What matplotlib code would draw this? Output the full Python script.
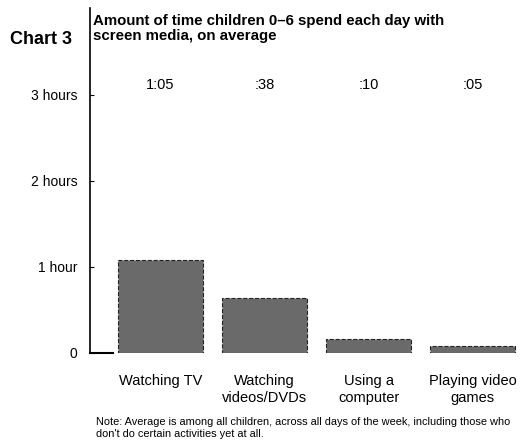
import matplotlib
matplotlib.use('Agg')
import matplotlib.pyplot as plt
import numpy as np

plt.rcParams['font.family'] = ['Liberation Sans', 'DejaVu Sans']

# data (hours per day)
categories = ['Watching TV', 'Watching\nvideos/DVDs', 'Using a\ncomputer', 'Playing video\ngames']
hours = [65 / 60, 38 / 60, 10 / 60, 5 / 60]
value_labels = ['1:05', ':38', ':10', ':05']
ytick_vals = [0, 1, 2, 3]
ytick_labels = ['0', '1 hour', '2 hours', '3 hours']

fig = plt.figure(figsize=(5.29, 4.45), dpi=100)
ax = fig.add_axes([0.170, 0.207, 0.83, 0.775])

x = np.arange(len(categories))
ax.bar(x, hours, width=0.82, color='#6a6a6a', edgecolor='#222222',
       linewidth=0.8, linestyle='--')

for xi, lab in zip(x, value_labels):
    ax.text(xi, 3.12, lab, ha='center', va='center', fontsize=10.5, color='black')

ax.set_xlim(-0.677, 3.54)
ax.set_ylim(0, 4.01)
ax.set_yticks(ytick_vals)
ax.set_yticklabels(ytick_labels, fontsize=10)
ax.set_xticks(x)
ax.set_xticklabels(categories, fontsize=10.5, linespacing=1.3)
ax.tick_params(axis='y', direction='in', length=3, width=0.8, pad=9)
ax.tick_params(axis='x', length=0, pad=15)

for s in ['top', 'right']:
    ax.spines[s].set_visible(False)
ax.spines['left'].set_linewidth(1.2)
ax.spines['bottom'].set_linewidth(1.5)
ax.spines['bottom'].set_bounds(-0.677, -0.456)

fig.text(0.019, 0.912, 'Chart 3', fontsize=13, fontweight='bold', va='center')
fig.text(0.176, 0.936, 'Amount of time children 0\u20136 spend each day with\nscreen media, on average',
         fontsize=10.8, fontweight='bold', va='center', linespacing=1.15)
fig.text(0.181, 0.038, "Note: Average is among all children, across all days of the week, including those who\n"
         "don't do certain activities yet at all.", fontsize=7.9, va='center', linespacing=1.15)

fig.savefig('out.png', dpi=100)
plt.close()
